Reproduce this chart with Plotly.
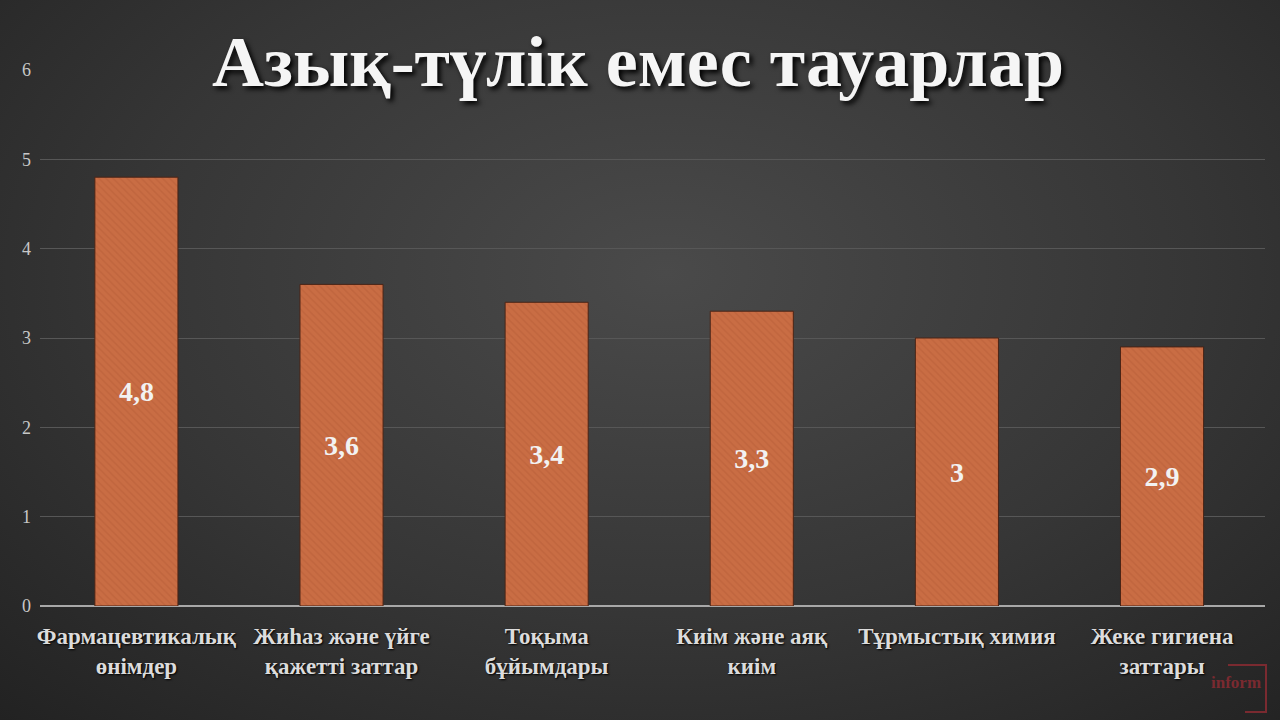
import plotly.graph_objects as go
import base64

categories = [
    "Фармацевтикалық<br>өнімдер",
    "Жиһаз және үйге<br>қажетті заттар",
    "Тоқыма<br>бұйымдары",
    "Киім және аяқ<br>киім",
    "Тұрмыстық химия",
    "Жеке гигиена<br>заттары",
]
values = [4.8, 3.6, 3.4, 3.3, 3.0, 2.9]
y_ticks = [0, 1, 2, 3, 4, 5, 6]
title_text = "Азық-түлік емес тауарлар"

W, H = 1280, 720
ML, MR, MT, MB = 40, 15, 70, 114
PW, PH = W - ML - MR, H - MT - MB

svg = f'''<svg xmlns="http://www.w3.org/2000/svg" width="{W}" height="{H}" viewBox="0 0 {W} {H}" preserveAspectRatio="none">
<defs><radialGradient id="g" cx="0.52" cy="0.38" r="0.75" gradientTransform="translate(0.52,0.38) scale(1,1.15) translate(-0.52,-0.38)">
<stop offset="0" stop-color="#4a4a4a"/><stop offset="0.55" stop-color="#363636"/><stop offset="1" stop-color="#222222"/></radialGradient></defs>
<rect width="{W}" height="{H}" fill="url(#g)"/></svg>'''
bg_uri = "data:image/svg+xml;base64," + base64.b64encode(svg.encode()).decode()

labels = [f"{v:g}".replace(".", ",") for v in values]


def px(xp):
    return (xp - ML) / PW


def py(yp):
    return (H - MB - yp) / PH


fig = go.Figure()
fig.add_trace(go.Bar(
    x=list(range(len(categories))), y=values,
    width=0.405,
    marker=dict(
        color="#C96D44",
        line=dict(color="#4a2416", width=1),
        pattern=dict(shape="\\", fgcolor="#b85e38", fgopacity=0.5, size=5, solidity=0.3),
    ),
    text=labels,
    textposition="inside",
    insidetextanchor="middle",
    textangle=0,
    textfont=dict(family="Liberation Serif", size=28, color="#f2f2f2", weight="bold"),
    hoverinfo="skip",
))

fig.update_layout(
    width=W, height=H,
    margin=dict(l=ML, r=MR, t=MT, b=MB),
    paper_bgcolor="#2e2e2e",
    plot_bgcolor="rgba(0,0,0,0)",
    showlegend=False,
    images=[dict(
        source=bg_uri, xref="paper", yref="paper",
        x=-ML / PW, y=1 + MT / PH, sizex=W / PW, sizey=H / PH,
        xanchor="left", yanchor="top", sizing="stretch", layer="below",
    )],
    xaxis=dict(
        range=[-0.47, 5.502],
        tickvals=list(range(len(categories))), ticktext=categories,
        showgrid=False, zeroline=False, showline=False, ticks="",
        ticklabelstandoff=14,
        tickfont=dict(family="Liberation Serif", size=23, color="#dcdcdc", weight="bold",
                      shadow="1px 1px 2px #000"),
        fixedrange=True,
    ),
    yaxis=dict(
        range=[0, 6], tickvals=y_ticks, ticktext=[str(t) for t in y_ticks],
        showgrid=True, gridcolor="#575757", gridwidth=1,
        zeroline=True, zerolinecolor="#a8a8a8", zerolinewidth=1.5,
        showline=False, ticks="", ticklabelstandoff=8,
        tickfont=dict(family="Liberation Serif", size=18, color="#c8c8c8"),
        fixedrange=True,
    ),
    annotations=[
        dict(text=title_text, xref="paper", yref="paper", x=px(638), y=py(62),
             xanchor="center", yanchor="middle", showarrow=False,
             font=dict(family="Liberation Serif", size=72, color="#f5f5f5", weight="bold",
                       shadow="3px 3px 5px #000")),
        dict(text="inform", xref="paper", yref="paper", x=px(1236), y=py(682),
             xanchor="center", yanchor="middle", showarrow=False,
             font=dict(family="Liberation Serif", size=17, color="#7a2a30", weight="bold")),
    ],
    shapes=[
        dict(type="path", xref="paper", yref="paper",
             path=f"M {px(1228)} {py(665)} L {px(1266)} {py(665)} "
                  f"L {px(1266)} {py(712)} L {px(1245)} {py(712)}",
             line=dict(color="#7a2a30", width=2)),
    ],
)

fig.write_html(
    "out.html",
    config={"displayModeBar": False, "staticPlot": True},
    post_script="document.body.style.margin='0';document.body.style.background='#222';",
)
